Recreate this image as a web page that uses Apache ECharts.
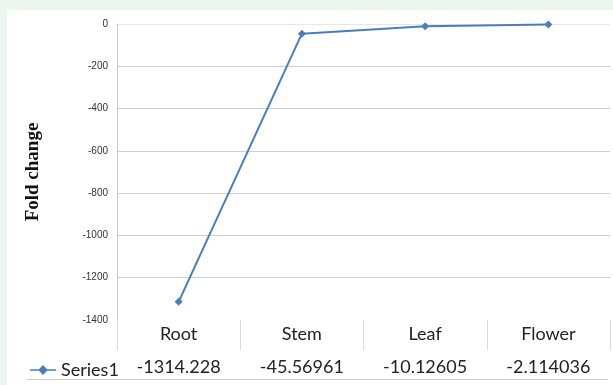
<!DOCTYPE html>
<html>
<head>
<meta charset="utf-8">
<script src="https://cdn.jsdelivr.net/npm/echarts@6/dist/echarts.min.js"></script>
<style>
  html, body { margin: 0; padding: 0; background: #edf6ee; }
  #panel { position: absolute; left: 7px; top: 10px; width: 606px; height: 375px; background: #ffffff; }
  #chart { position: absolute; left: 0; top: 0; width: 613px; height: 385px; }
</style>
</head>
<body>
<div id="panel"></div>
<div id="chart"></div>
<script>
// Fold change per tissue
const tissues = ['Root', 'Stem', 'Leaf', 'Flower'];
const foldChange = [-1314.228, -45.56961, -10.12605, -2.114036];
const seriesName = 'Series1';
const yTicks = [0, -200, -400, -600, -800, -1000, -1200, -1400];

const chart = echarts.init(document.getElementById('chart'), null, { renderer: 'canvas' });

const lineBlue = '#4a7ebb';
const tableFont = 'Lato, "Open Sans", sans-serif';

// grid lines from the bottom up: none at the floor, a faint one at zero
const gridColors = yTicks.slice().reverse().map((v, i) =>
  i === 0 ? 'rgba(0,0,0,0)' : (v === 0 ? '#e6e6e6' : '#cfcfcf'));

chart.setOption({
  animation: false,
  grid: { left: 117, right: 3, top: 24, bottom: 65 },
  legend: {
    data: [seriesName],
    left: 25,
    top: 356,
    itemWidth: 26,
    itemHeight: 10,
    icon: 'path://M0,4.3 L9,4.3 L13,0 L17,4.3 L26,4.3 L26,5.7 L17,5.7 L13,10 L9,5.7 L0,5.7 Z',
    textStyle: { fontFamily: tableFont, fontSize: 18, color: '#222' }
  },
  xAxis: [
    {
      type: 'category',
      data: tissues,
      boundaryGap: true,
      axisLine: { show: false, onZero: false },
      axisTick: { show: true, length: 30, inside: false, lineStyle: { color: '#dadada' } },
      axisLabel: { margin: 5, fontFamily: tableFont, fontSize: 18, color: '#222' }
    },
    {
      type: 'category',
      position: 'bottom',
      offset: 33,
      data: foldChange.map(String),
      boundaryGap: true,
      axisLine: { show: false, onZero: false },
      axisTick: { show: false },
      axisLabel: { margin: 5, fontFamily: tableFont, fontSize: 18, color: '#222' }
    }
  ],
  yAxis: {
    type: 'value',
    min: yTicks[yTicks.length - 1],
    max: yTicks[0],
    interval: 200,
    name: 'Fold change',
    nameLocation: 'middle',
    nameRotate: 90,
    nameGap: 74,
    nameTextStyle: { fontFamily: '"Liberation Serif", serif', fontWeight: 'bold', fontSize: 19, color: '#111' },
    axisLine: { show: true, lineStyle: { color: '#c8c8c8' } },
    axisTick: { show: false },
    splitLine: { show: true, lineStyle: { color: gridColors } },
    axisLabel: {
      margin: 9,
      fontFamily: '"Liberation Sans", sans-serif',
      fontSize: 10,
      color: '#333',
      formatter: v => String(v)
    }
  },
  series: [{
    name: seriesName,
    type: 'line',
    data: foldChange,
    xAxisIndex: 0,
    symbol: 'diamond',
    symbolSize: 8,
    lineStyle: { color: lineBlue, width: 2 },
    itemStyle: { color: lineBlue }
  }],
  color: [lineBlue],
  graphic: [{
    type: 'line',
    shape: { x1: 27, y1: 379.5, x2: 608, y2: 379.5 },
    style: { stroke: '#cfcfcf', lineWidth: 1 }
  }]
});
</script>
</body>
</html>
